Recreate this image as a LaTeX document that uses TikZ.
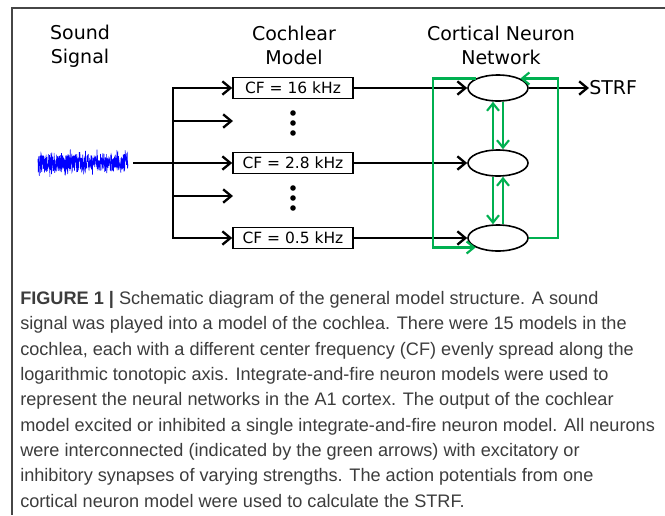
\documentclass[tikz,border=0pt]{standalone}
\usepackage{fontspec}
\setmainfont{DejaVu Sans}
\newfontfamily\capfont{Liberation Sans}
\usetikzlibrary{arrows.meta,shapes.geometric,calc}
\definecolor{netgreen}{RGB}{0,176,80}
\definecolor{waveblue}{RGB}{0,0,255}
\definecolor{framegray}{RGB}{70,70,70}
\definecolor{captext}{RGB}{60,60,60}
\begin{document}
\begin{tikzpicture}[x=0.75pt,y=-0.75pt,
  lbl/.style={font=\fontsize{14.25}{18}\selectfont, align=center, inner sep=0pt},
  cfbox/.style={draw, line width=1.2pt, minimum width=90pt, minimum height=15.75pt, inner sep=0pt, font=\fontsize{11.6}{13}\selectfont},
  neuron/.style={draw, ellipse, line width=1.2pt, minimum width=45pt, minimum height=19.5pt, inner sep=0pt},
  feed/.style={line width=1.75pt, -{Straight Barb[length=6pt,width=10pt]}},
  feedline/.style={line width=1.75pt, line cap=rect},
  link/.style={netgreen, line width=1.6pt, -{Straight Barb[length=5.5pt,width=9pt]}},
  dotmark/.style={circle, fill, inner sep=0pt, minimum size=4.2pt}
]
\useasboundingbox (0,0) rectangle (665,515);
% frame
\draw[framegray, line width=1.3pt] (665,8) -- (12,8) -- (12,515);
% titles
\node[lbl] (tsound) at (80,46) {Sound\\Signal};
\node[lbl] (tcoch) at (294,45) {Cochlear\\Model};
\node[lbl] (tcort) at (501,45) {Cortical Neuron\\Network};
% waveform
\pgfmathsetseed{7}
\draw[waveblue, line width=0.45pt] plot[domain=38:128, samples=480] (\x, {163+(9+6*rnd^5)*rand});
\coordinate (wave) at (133,163);
% cochlear boxes
\node[cfbox] (cf16) at (293,88) {CF = 16 kHz};
\node[cfbox] (cf28) at (293,163) {CF = 2.8 kHz};
\node[cfbox] (cf05) at (293,238) {CF = 0.5 kHz};
\foreach \yy/\nm in {113/a1,123/a2,133/a3,188/b1,198/b2,208/b3}
  \node[dotmark] (\nm) at (293,\yy) {};
% trunk
\coordinate (trunk) at (173,163);
\coordinate (da) at (233,121);
\coordinate (db) at (233,196);
\draw[feedline] (trunk |- cf16.west) -- (trunk |- cf05.west);
\draw[feed] (wave) -- (cf28.west);
\draw[feed] (trunk |- cf16.west) -- (cf16.west);
\draw[feed] (trunk |- da) -- (da);
\draw[feed] (trunk |- db) -- (db);
\draw[feed] (trunk |- cf05.west) -- (cf05.west);
% neurons
\node[neuron] (n1) at (498,88) {};
\node[neuron] (n2) at (498,163) {};
\node[neuron] (n3) at (498,238) {};
\draw[feed] (cf16.east) -- (n1.west);
\draw[feed] (cf28.east) -- (n2.west);
\draw[feed] (cf05.east) -- (n3.west);
% STRF
\node[lbl, anchor=west] (strf) at (589,88) {STRF};
\draw[feed] (n1.east) -- (strf.west);
% green network
\coordinate (gL) at (433,0);
\coordinate (gR) at (558,0);
\coordinate (vL) at (493,0);
\coordinate (vR) at (503,0);
\draw[link] (n1.157) -- (gL |- n1.157) -- (gL |- n3.203) -- (n3.203);
\draw[link] (n3.east) -- (gR |- n3.east) -- (gR |- n1.23) -- (n1.23);
\draw[link] (vL |- n2.north) -- (vL |- n1.south);
\draw[link] (vR |- n1.south) -- (vR |- n2.north);
\draw[link] (vL |- n2.south) -- (vL |- n3.north);
\draw[link] (vR |- n3.north) -- (vR |- n2.south);
% caption
\node[anchor=north west, inner sep=0pt, align=left, text=captext,
      font=\capfont\fontsize{13.6}{19}\selectfont] (caption) at (20,291)
{\textbf{FIGURE 1 |} Schematic diagram of the general model structure. A sound\\
signal was played into a model of the cochlea. There were 15 models in the\\
cochlea, each with a different center frequency (CF) evenly spread along the\\
logarithmic tonotopic axis. Integrate-and-fire neuron models were used to\\
represent the neural networks in the A1 cortex. The output of the cochlear\\
model excited or inhibited a single integrate-and-fire neuron model. All neurons\\
were interconnected (indicated by the green arrows) with excitatory or\\
inhibitory synapses of varying strengths. The action potentials from one\\
cortical neuron model were used to calculate the STRF.};
\end{tikzpicture}
\end{document}
